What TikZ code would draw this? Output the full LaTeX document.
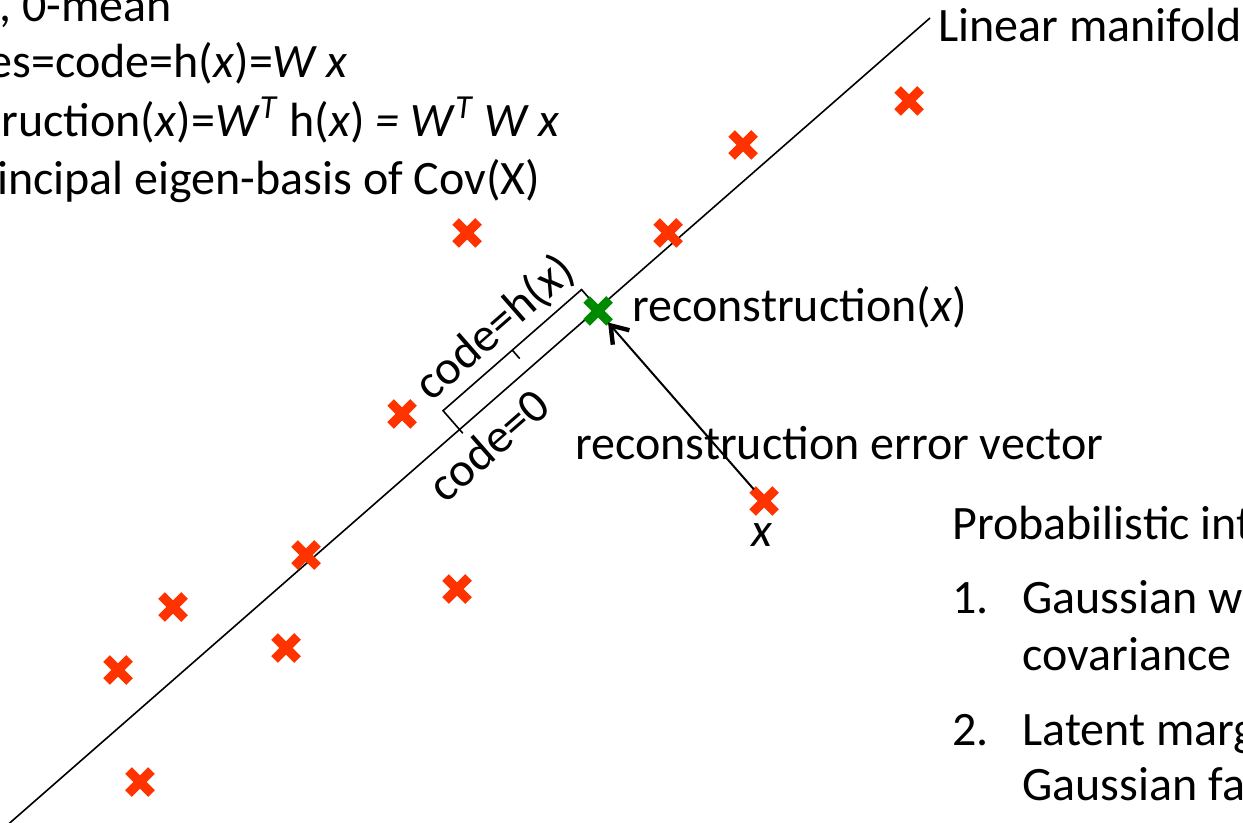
\documentclass[tikz,border=0pt]{standalone}
\usepackage{fontspec}
\setmainfont{Carlito}
\usetikzlibrary{arrows.meta,calc,shapes.misc}
\definecolor{ptred}{HTML}{FF3300}
\definecolor{ptgreen}{HTML}{008A00}

\begin{document}
\begin{tikzpicture}[x=0.5pt,y=-0.5pt,
  >={Straight Barb[length=8pt,width=11pt,line width=2.2pt]},
  every node/.style={font=\fontsize{24}{29}\selectfont},
  datapt/.style={cross out,draw=ptred,line width=4.6pt,minimum size=11.5pt,inner sep=0pt,outer sep=0pt},
  recpt/.style={datapt,draw=ptgreen},
  txt/.style={anchor=base west,inner sep=0pt},
  rtxt/.style={anchor=base east,inner sep=0pt},
  bracket/.style={line width=0.8pt}]
  \clip (0,0) rectangle (1243,823);
  % manifold line
  \coordinate (lo) at (-4,835);
  \coordinate (hi) at (930,18);
  \draw[line width=0.8pt] (lo) -- (hi);
  % bracket for the code
  \coordinate (c0) at (459.5,429.5);
  \coordinate (c1) at (598,308.4);
  \coordinate (b0) at ($(c0)!12.5pt!90:(c1)$);
  \coordinate (b1) at ($(c1)!12.5pt!-90:(c0)$);
  \coordinate (bm) at ($(b0)!.5!(b1)$);
  \coordinate (cm) at ($(c0)!.5!(c1)$);
  \draw[bracket] ($(b0)!1.2!(c0)$) -- (b0) -- (b1) -- (c1);
  \draw[bracket] (bm) -- ($(bm)!.45!(cm)$);
  \node[rotate=41.2] (codeh) at (495,328) {code=h(\textit{x})};
  \node[rotate=41.2] (code0) at (488,445) {code=0};
  % data points
  \foreach \px/\py [count=\i] in {909/101,743/145,668/233,467/233,402/414,306/555,
      457/589,173/607,286/648,118/670,140/782}
    \node[datapt] (d\i) at (\px,\py) {};
  \node[datapt] (xpt) at (764,501) {};
  \node[recpt] (rec) at (598,311) {};
  \draw[->,line width=1pt] (xpt) -- (rec);
  % labels
  \node[txt] (mani) at (938,42) {Linear manifold};
  \node[txt] (rectxt) at (632,322) {reconstruction(\textit{x})};
  \node[txt] (errtxt) at (575,460) {reconstruction error vector};
  \node[anchor=base,inner sep=0pt] (xlbl) at (762,547) {\textit{x}};
  \node[rtxt] (l1) at (172,22) {\textit{x}\,, 0-mean};
  \node[rtxt] (l2) at (348,78) {features=code=h(\textit{x})=\textit{W x}};
  \node[rtxt] (l3) at (560,137) {reconstruction(\textit{x})=\textit{W}\textsuperscript{\textit{T}} h(\textit{x}) \textit{= W}\textsuperscript{\textit{T}} \textit{W x}};
  \node[rtxt] (l4) at (541,195) {principal eigen-basis of Cov(X)};
  \node[txt] (prob) at (952,540) {Probabilistic interpretations:};
  \node[txt] (n1) at (952,613) {1.};
  \node[txt] (i1a) at (1022,613) {Gaussian with full};
  \node[txt] (i1b) at (1022,670) {covariance};
  \node[txt] (n2) at (952,745) {2.};
  \node[txt] (i2a) at (1022,745) {Latent marginally};
  \node[txt] (i2b) at (1022,800) {Gaussian factor};
\end{tikzpicture}
\end{document}
